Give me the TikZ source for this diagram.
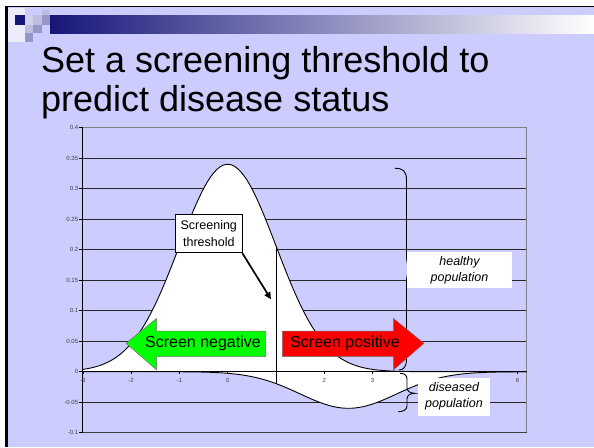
\documentclass[tikz,border=0pt]{standalone}
\usepackage{fontspec}
\setmainfont{Liberation Sans}
\usetikzlibrary{arrows.meta}
\definecolor{lav}{RGB}{204,204,255}
\definecolor{navy}{RGB}{22,22,122}
\definecolor{sqA}{RGB}{208,208,240}
\definecolor{sqB}{RGB}{190,190,225}
\definecolor{sqC}{RGB}{150,150,200}
\definecolor{pale}{RGB}{236,236,250}
\tikzset{
  grid/.style={black!85, line width=0.8pt},
  curve/.style={black, line width=0.9pt},
  ylab/.style={anchor=east, inner sep=0pt, font=\fontsize{6}{6.5}\selectfont, text=black!75},
  xlab/.style={inner sep=0pt, font=\fontsize{6}{6.5}\selectfont, text=black!75},
  brace/.style={black, line width=0.9pt},
  labbox/.style={fill=white, inner sep=0pt},
  labtext/.style={align=center, inner sep=0pt, font=\fontsize{12.5}{16.2}\selectfont\itshape},
  bigarrow/.style={draw=black!55, line width=0.5pt},
  arrtext/.style={inner sep=0pt, font=\fontsize{16}{18}\selectfont},
  titletext/.style={anchor=base west, inner sep=0pt, font=\fontsize{36}{39}\selectfont}
}
\begin{document}
\begin{tikzpicture}[x=1pt,y=1pt]
\useasboundingbox (0,0) rectangle (594,-447);
\fill[white] (0,0) rectangle (594,-447);
\fill[lav] (6,-6.5) rectangle (594,-447);
% header decoration
\fill[pale] (8,-7.5) rectangle (25,-42);
\shade[left color=navy, right color=white] (50,-15) rectangle (594,-33.3);
\fill[navy] (15,-15) rectangle (25,-25);
\fill[sqB] (42,-10) rectangle (50,-15);
\fill[sqA] (25,-15) rectangle (33,-25);
\fill[sqB] (33,-15) rectangle (42,-25);
\fill[sqC] (42,-15) rectangle (50,-25);
\fill[sqB] (25,-25) rectangle (33,-33);
\fill[sqC] (33,-25) rectangle (42,-33);
\fill[sqC] (25,-33) rectangle (33,-42);
\draw[black, line width=1.6pt] (5,-6.6) -- (594,-6.6);
\draw[black, line width=3pt] (6.5,-6) -- (6.5,-447);
% title
\node[titletext] (title1) at (41,-72.7) {Set a screening threshold to};
\node[titletext] (title2) at (41,-111.7) {predict disease status};
% chart
\begin{scope}[shift={(227.7,-371.7)}, x=48.3pt, y=610pt]
  \foreach \v in {-0.05,0.05,0.1,0.15,0.2,0.25,0.3,0.35}
    \draw[grid] (-3,\v) -- (6.19,\v);
  \draw[black!50, line width=0.8pt] (-3,0.4) -- (6.19,0.4) -- (6.19,-0.1);
  \draw[black!75, line width=0.8pt] (-3,-0.1) -- (6.19,-0.1);
  \fill[white] plot[domain=-3:6.19, samples=150] (\x,{0.34*exp(-(\x)*(\x)/2)})
     -- plot[domain=6.19:-3, samples=150] (\x,{-0.06*exp(-(\x-2.5)*(\x-2.5)/2)}) -- cycle;
  \draw[curve] plot[domain=-3:6.19, samples=150] (\x,{0.34*exp(-(\x)*(\x)/2)});
  \draw[curve] plot[domain=-3:6.19, samples=150] (\x,{-0.06*exp(-(\x-2.5)*(\x-2.5)/2)});
  \draw[black, line width=1.2pt] (-3,-0.1) -- (-3,0.4);
  \draw[black, line width=0.9pt] (-3,0) -- (6.19,0);
  \foreach \v/\t [count=\i] in {0.4/0.4,0.35/0.35,0.3/0.3,0.25/0.25,0.2/0.2,0.15/0.15,0.1/0.1,0.05/0.05,0/0,-0.05/-0.05,-0.1/-0.1} {
    \draw[black, line width=0.6pt] (-3,\v) -- ++(-3.5pt,0);
    \node[ylab] (yl\i) at ([xshift=-4.5pt]-3,\v) {\t};
  }
  \foreach \u [count=\i] in {-3,-2,-1,0,2,3,6} {
    \draw[black, line width=0.6pt] (\u,0) -- ++(0,-2.5pt);
  }
  \foreach \u [count=\i] in {-3,-2,-1,0,2,3,6} {
    \node[xlab] (xl\i) at ([yshift=-9pt]\u,0) {\u};
  }
  \coordinate (thb) at (1,{-0.06*exp(-1.125)});
  \coordinate (tht) at (1,{0.34*exp(-0.5)});
  \draw[black, line width=0.9pt] (thb) -- (tht);
\end{scope}
% braces
\draw[brace] (395,-168.3) .. controls (403,-168.3) and (406.5,-171) .. (406.5,-180)
  -- (406.5,-258) .. controls (406.5,-265) and (410,-269.3) .. (418.3,-269.3)
  .. controls (410,-269.3) and (406.5,-273) .. (406.5,-280)
  -- (406.5,-360) .. controls (406.5,-367) and (403,-370) .. (399,-370);
\draw[brace] (400,-373.3) .. controls (404,-373.3) and (407,-375) .. (407,-379)
  -- (407,-388) .. controls (407,-391) and (410,-393.3) .. (415,-393.3)
  .. controls (410,-393.3) and (407,-395.5) .. (407,-399)
  -- (407,-406) .. controls (407,-410) and (403,-411.7) .. (398.3,-411.7);
% label boxes
\node[labbox, minimum width=104.4pt, minimum height=36.6pt] (hbox) at (459.5,-270) {};
\node[labtext] (htext) at (459.5,-270.5) {healthy\\population};
\node[labbox, minimum width=71.7pt, minimum height=37.7pt] (dbox) at (454.2,-397.2) {};
\node[labtext] (dtext) at (454,-396) {diseased\\population};
% big arrows
\filldraw[bigarrow, fill=green] (265.7,-331) -- (156.7,-331) -- (156.7,-318.3) -- (126,-343.3)
  -- (156.7,-370) -- (156.7,-356.7) -- (265.7,-356.7) -- cycle;
\node[arrtext] (neg) at (203,-343.3) {Screen negative};
\filldraw[bigarrow, fill=red] (282.3,-331) -- (393.3,-331) -- (393.3,-318.3) -- (424,-343.3)
  -- (393.3,-370) -- (393.3,-356.7) -- (282.3,-356.7) -- cycle;
\node[arrtext] (pos) at (345,-343.3) {Screen positive};
% threshold callout
\node[draw=black, fill=white, line width=0.8pt, minimum width=66.3pt, minimum height=38.7pt,
  inner sep=0pt, align=center, font=\fontsize{12.5}{16.7}\selectfont] (tbox) at (208.8,-233.4) {Screening\\threshold};
\coordinate (tip) at (271,-299.3);
\draw[black, line width=1.7pt, -{Triangle[length=7pt,width=6.5pt]}] (tbox.south east) -- (tip);
\end{tikzpicture}
\end{document}
